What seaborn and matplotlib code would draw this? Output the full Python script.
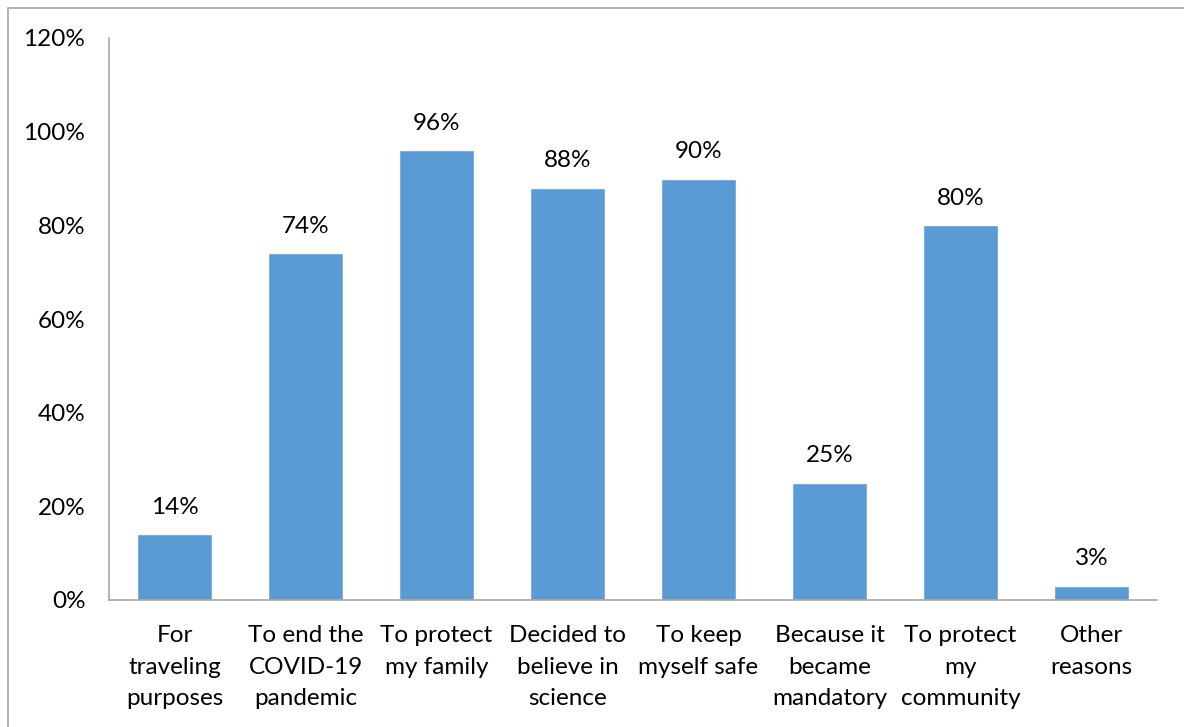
import matplotlib
matplotlib.use("Agg")
import matplotlib.pyplot as plt
import seaborn as sns
import pandas as pd
from matplotlib.lines import Line2D

categories = [
    "For\ntraveling\npurposes",
    "To end the\nCOVID-19\npandemic",
    "To protect\nmy family",
    "Decided to\nbelieve in\nscience",
    "To keep\nmyself safe",
    "Because it\nbecame\nmandatory",
    "To protect\nmy\ncommunity",
    "Other\nreasons",
]
values = [14, 74, 96, 88, 90, 25, 80, 3]
yticks = [0, 20, 40, 60, 80, 100, 120]

sns.set_theme(style="white")
plt.rcParams["font.family"] = ["Lato", "DejaVu Sans"]

FS = 17.5

df = pd.DataFrame({"reason": categories, "share": values})

fig = plt.figure(figsize=(11.84, 7.27), dpi=100)
ax = fig.add_axes([109 / 1184, 1 - 600 / 727, (1157 - 109) / 1184, (600 - 38) / 727])

sns.barplot(data=df, x="reason", y="share", color="#5B9BD5", width=0.58,
            saturation=1, ax=ax)

ax.set_ylim(0, 120)
ax.set_xlim(-0.5, len(categories) - 0.5)
ax.set_yticks(yticks)
ax.set_yticklabels([f"{t}%" for t in yticks], fontsize=FS, color="#000000")
ax.tick_params(axis="y", length=0, pad=17)
ax.tick_params(axis="x", length=0, pad=18)
for lbl in ax.get_xticklabels():
    lbl.set_fontsize(FS)
    lbl.set_linespacing(1.62)
    lbl.set_color("#000000")
ax.set_xlabel("")
ax.set_ylabel("")

for side in ("top", "right"):
    ax.spines[side].set_visible(False)
for side in ("left", "bottom"):
    ax.spines[side].set_color("#A6A6A6")
    ax.spines[side].set_linewidth(1.2)

for cont in ax.containers:
    ax.bar_label(cont, labels=[f"{v}%" for v in values], padding=12,
                 fontsize=FS, color="#000000")

# thin frame along the top and left edge of the figure
fig.add_artist(Line2D([7.5 / 1184, 7.5 / 1184], [0, 1 - 7.5 / 727],
                      transform=fig.transFigure, color="#A6A6A6", lw=1.2))
fig.add_artist(Line2D([7.5 / 1184, 1], [1 - 7.5 / 727, 1 - 7.5 / 727],
                      transform=fig.transFigure, color="#A6A6A6", lw=1.2))

fig.savefig("out.png", dpi=100)
